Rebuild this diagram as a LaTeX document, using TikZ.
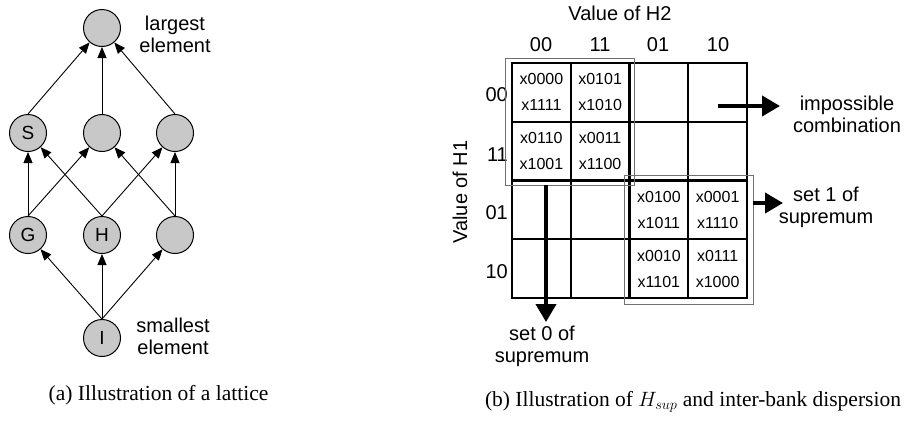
\documentclass[tikz,border=0pt]{standalone}
\usepackage{fontspec}
\setmainfont{Liberation Sans}
\newfontfamily\capfont{Liberation Serif}
\usetikzlibrary{arrows.meta}
\definecolor{nodegray}{HTML}{C8C8C8}
\definecolor{boxgray}{HTML}{707070}
\begin{document}
\begin{tikzpicture}[x=1pt,y=-1pt,
  lat/.style={circle,draw,line width=1pt,fill=nodegray,minimum size=37pt,inner sep=0pt,font=\fontsize{19}{22}\selectfont},
  arr/.style={-{Triangle[length=11pt,width=9pt]},line width=0.9pt},
  lbl/.style={align=center,inner sep=0pt,font=\fontsize{20}{22}\selectfont},
  cell/.style={draw,line width=2pt,minimum width=58.75pt,minimum height=58.75pt,inner sep=0pt,align=center,font=\fontsize{16}{26}\selectfont},
  setbox/.style={draw=boxgray,line width=1pt,inner sep=0pt},
  bigarr/.style={-{Triangle[length=18pt,width=20pt]},line width=4pt},
  captxt/.style={inner sep=0pt,font=\capfont\fontsize{21.5}{24}\selectfont}]
\useasboundingbox (0,0) rectangle (909,421);
% ---- lattice ----
\node[lat] (top) at (102,28) {};
\node[lat] (S) at (28,133) {S};
\node[lat] (M) at (102,133) {};
\node[lat] (R) at (175,133) {};
\node[lat] (G) at (28,235) {G};
\node[lat] (H) at (102,235) {H};
\node[lat] (R2) at (175,235) {};
\node[lat] (I) at (102,338) {I};
\node[lbl] (largest) at (175,34) {largest\\element};
\node[lbl] (smallest) at (173,336) {smallest\\element};
\draw[arr] (S.north) -- (top);
\draw[arr] (M.north) -- (top);
\draw[arr] (R.north) -- (top);
\draw[arr] (G.north) -- (S);
\draw[arr] (G.north) -- (M);
\draw[arr] (H.north) -- (S);
\draw[arr] (H.north) -- (R);
\draw[arr] (R2.north) -- (M);
\draw[arr] (R2.north) -- (R);
\draw[arr] (I.north) -- (G);
\draw[arr] (I.north) -- (H);
\draw[arr] (I.north) -- (R2);
% ---- grid ----
\node[cell] (c11) at (541.4,92.4) {x0000\\x1111};
\node[cell] (c12) at (600.1,92.4) {x0101\\x1010};
\node[cell] (c13) at (658.9,92.4) {};
\node[cell] (c14) at (717.6,92.4) {};
\node[cell] (c21) at (541.4,151.1) {x0110\\x1001};
\node[cell] (c22) at (600.1,151.1) {x0011\\x1100};
\node[cell] (c23) at (658.9,151.1) {};
\node[cell] (c24) at (717.6,151.1) {};
\node[cell] (c31) at (541.4,209.9) {};
\node[cell] (c32) at (600.1,209.9) {};
\node[cell] (c33) at (658.9,209.9) {x0100\\x1011};
\node[cell] (c34) at (717.6,209.9) {x0001\\x1110};
\node[cell] (c41) at (541.4,268.6) {};
\node[cell] (c42) at (600.1,268.6) {};
\node[cell] (c43) at (658.9,268.6) {x0010\\x1101};
\node[cell] (c44) at (717.6,268.6) {x0111\\x1000};
% column / row labels
\node[lbl] (h2) at (620,13) {Value of H2};
\node[lbl] (col1) at (541,45) {00};
\node[lbl] (col2) at (600,45) {11};
\node[lbl] (col3) at (658,45) {01};
\node[lbl] (col4) at (718,45) {10};
\node[lbl,rotate=90] (h1) at (460,192) {Value of H1};
\node[lbl,anchor=east] (row1) at (508,95) {00};
\node[lbl,anchor=east] (row2) at (508,155) {11};
\node[lbl,anchor=east] (row3) at (508,213) {01};
\node[lbl,anchor=east] (row4) at (508,272) {10};
% set boxes
\node[setbox,minimum width=129.3pt,minimum height=126.7pt] (set0) at (569.7,121.7) {};
\node[setbox,minimum width=129.3pt,minimum height=128.6pt] (set1) at (688.7,240) {};
% annotations
\node[lbl] (imp) at (847,114) {impossible\\combination};
\node[lbl] (s1txt) at (826,207) {set 1 of\\supremum};
\node[lbl] (s0txt) at (542,346) {set 0 of\\supremum};
\coordinate (impa) at (718,106);
\coordinate (impb) at (780,106);
\coordinate (s1a) at (753.3,203);
\coordinate (s1b) at (783,203);
\coordinate (s0a) at (546,185);
\coordinate (s0b) at (546,322);
\draw[bigarr] (impa) -- (impb);
\draw[bigarr] (s1a) -- (s1b);
\draw[bigarr] (s0a) -- (s0b);
% captions
\node[captxt] (capa) at (158.5,395) {(a) Illustration of a lattice};
\node[captxt] (capb) at (693,402) {(b) Illustration of $H_{s u p}$ and inter-bank dispersion};
\end{tikzpicture}
\end{document}
